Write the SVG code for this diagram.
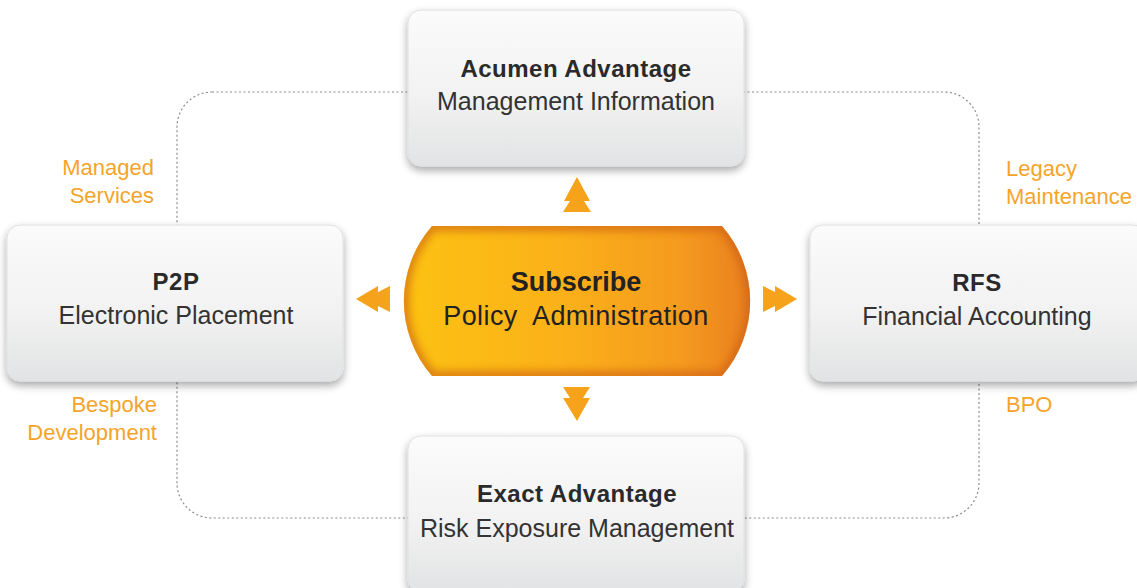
<svg xmlns="http://www.w3.org/2000/svg" width="1137" height="588" viewBox="0 0 1137 588">
<defs>
<linearGradient id="boxGrad" x1="0" y1="0" x2="0" y2="1">
<stop offset="0" stop-color="#fbfbfb"/>
<stop offset="0.55" stop-color="#f2f2f2"/>
<stop offset="1" stop-color="#e2e3e4"/>
</linearGradient>
<linearGradient id="subGrad" x1="0" y1="0" x2="1" y2="0">
<stop offset="0" stop-color="#fcc212"/>
<stop offset="0.45" stop-color="#fbb119"/>
<stop offset="0.8" stop-color="#f59a1e"/>
<stop offset="1" stop-color="#e9801f"/>
</linearGradient>
<filter id="boxShadow" x="-10%" y="-10%" width="120%" height="130%">
<feGaussianBlur in="SourceAlpha" stdDeviation="4"/>
<feOffset dy="4" result="b"/>
<feComponentTransfer><feFuncA type="linear" slope="0.35"/></feComponentTransfer>
<feMerge><feMergeNode/><feMergeNode in="SourceGraphic"/></feMerge>
</filter>
<filter id="edgeBlur" x="-10%" y="-10%" width="120%" height="120%">
<feGaussianBlur stdDeviation="4"/>
</filter>
<clipPath id="subClip">
<path d="M432,226 H722 A114,114 0 0 1 722,376 H432 A114,114 0 0 1 432,226 Z"/>
</clipPath>
</defs>
<style>
.box{fill:url(#boxGrad);stroke:#e0e0e0;stroke-width:1;filter:url(#boxShadow)}
.title{font-family:"Liberation Sans",Arial,sans-serif;font-weight:bold;font-size:24px;letter-spacing:0.5px;fill:#2a2a2a;text-anchor:middle}
.sub{font-family:"Liberation Sans",Arial,sans-serif;font-size:25px;fill:#333;text-anchor:middle}
.lbl{font-family:"Liberation Sans",Arial,sans-serif;font-size:22px;fill:#f5a42a}
.arrow{fill:#f7a21b}
.dash{fill:none;stroke:#8c8c8c;stroke-width:1.2;stroke-dasharray:2 2.5}
</style>
<g id="connectors">
<rect class="dash" x="177" y="92" width="802" height="426" rx="35" ry="35"/>
<polygon class="arrow" points="563,212 591,212 584,201 590,201 577,177 564,201 570,201"/>
<polygon class="arrow" points="563,387 590,387 583,398 590,398 577,421 563,398 570,398"/>
<polygon class="arrow" points="763,286 775,292 775,286 797,299 775,312 775,306 763,312"/>
<polygon class="arrow" points="390,286 378,292 378,286 356,299 378,312 378,306 390,312"/>
</g>
<g id="labels">
<text class="lbl" x="154" y="175" text-anchor="end">Managed</text>
<text class="lbl" x="154" y="203" text-anchor="end">Services</text>
<text class="lbl" x="157" y="412" text-anchor="end">Bespoke</text>
<text class="lbl" x="157" y="440" text-anchor="end">Development</text>
<text class="lbl" x="1006" y="176">Legacy</text>
<text class="lbl" x="1006" y="204">Maintenance</text>
<text class="lbl" x="1006" y="412">BPO</text>
</g>
<g id="node-acumen">
<rect class="box" x="408" y="10" width="336" height="156" rx="13" ry="13"/>
<text class="title" x="576" y="77">Acumen Advantage</text>
<text class="sub" x="576" y="110">Management Information</text>
</g>
<g id="node-p2p">
<rect class="box" x="7" y="225" width="336" height="156" rx="13" ry="13"/>
<text class="title" x="176" y="290">P2P</text>
<text class="sub" x="176" y="324">Electronic Placement</text>
</g>
<g id="node-rfs">
<rect class="box" x="810" y="225" width="336" height="156" rx="13" ry="13"/>
<text class="title" x="977" y="291">RFS</text>
<text class="sub" x="977" y="325">Financial Accounting</text>
</g>
<g id="node-exact">
<rect class="box" x="408" y="436" width="336" height="156" rx="13" ry="13"/>
<text class="title" x="577" y="502">Exact Advantage</text>
<text class="sub" x="577" y="537">Risk Exposure Management</text>
</g>
<g id="node-subscribe">
<path d="M432,226 H722 A114,114 0 0 1 722,376 H432 A114,114 0 0 1 432,226 Z" fill="url(#subGrad)"/>
<g clip-path="url(#subClip)">
<path d="M432,226 H722 A114,114 0 0 1 722,376 H432 A114,114 0 0 1 432,226 Z" fill="none" stroke="#cc5f19" stroke-width="9" opacity="0.75" filter="url(#edgeBlur)"/>
</g>
<text x="576" y="291" font-family="Liberation Sans, Arial, sans-serif" font-weight="bold" font-size="27" fill="#222" text-anchor="middle">Subscribe</text>
<text x="576" y="325" font-family="Liberation Sans, Arial, sans-serif" font-size="27" letter-spacing="0.4" fill="#222" text-anchor="middle">Policy&#160; Administration</text>
</g>
</svg>
